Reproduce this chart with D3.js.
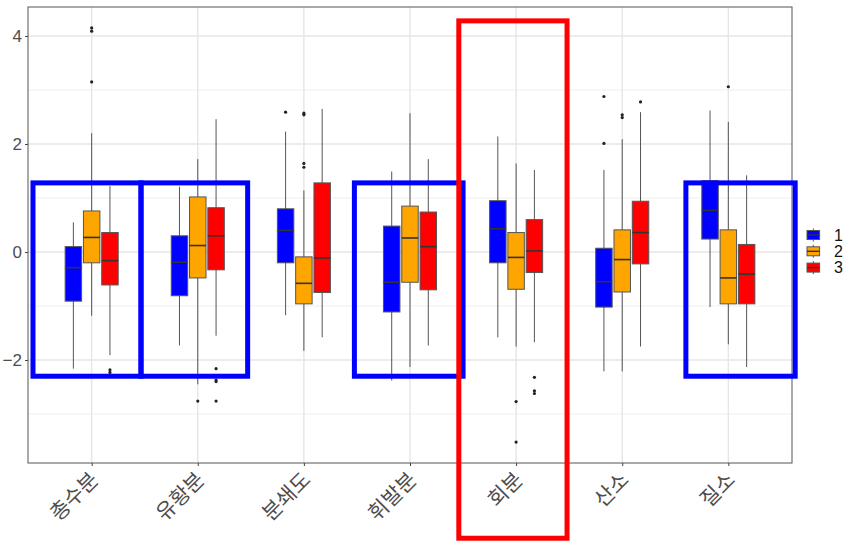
<!DOCTYPE html>
<html>
<head>
<meta charset="utf-8">
<script src="https://cdn.jsdelivr.net/npm/d3@7"></script>
<style>
  html, body { margin: 0; padding: 0; background: #fff; }
  svg { display: block; }
</style>
</head>
<body>
<svg id="chart" width="849" height="541"></svg>
<script>
// Categories and series
const categories = ["총수분", "유황분", "분쇄도", "휘발분", "회분", "산소", "질소"];
const groups = ["1", "2", "3"];
const groupColors = ["#0000FF", "#FFA500", "#FF0000"];

// Box statistics per group, one value per category
const whiskerLow1 = [-2.16, -1.73, -1.17, -2.38, -1.58, -2.21, -1.02];
const q1_1        = [-0.91, -0.81, -0.20, -1.11, -0.20, -1.02,  0.24];
const median1     = [-0.29, -0.19,  0.40, -0.56,  0.43, -0.55,  0.77];
const q3_1        = [ 0.10,  0.30,  0.80,  0.48,  0.95,  0.07,  1.32];
const whiskerHigh1= [ 0.55,  1.21,  2.23,  1.49,  2.14,  1.52,  2.62];

const whiskerLow2 = [-1.18, -2.45, -1.83, -2.13, -1.75, -2.21, -1.71];
const q1_2        = [-0.20, -0.48, -0.96, -0.56, -0.69, -0.74, -0.96];
const median2     = [ 0.27,  0.12, -0.58,  0.26, -0.10, -0.14, -0.48];
const q3_2        = [ 0.76,  1.02, -0.09,  0.85,  0.36,  0.41,  0.41];
const whiskerHigh2= [ 2.20,  1.72,  1.14,  2.57,  1.64,  2.09,  2.41];

const whiskerLow3 = [-1.91, -1.55, -1.58, -1.73, -1.67, -1.75, -2.13];
const q1_3        = [-0.61, -0.33, -0.75, -0.70, -0.38, -0.22, -0.96];
const median3     = [-0.16,  0.30, -0.11,  0.10,  0.02,  0.36, -0.41];
const q3_3        = [ 0.36,  0.82,  1.28,  0.74,  0.60,  0.94,  0.14];
const whiskerHigh3= [ 1.22,  2.46,  2.65,  1.72,  1.52,  2.59,  1.42];

// Outliers: [category index, value]
const outliers1 = [[2, 2.59], [5, 2.88], [5, 2.01]];
const outliers2 = [[0, 4.15], [0, 4.09], [0, 3.15], [1, -2.76], [2, 2.57], [2, 2.54],
                   [2, 1.64], [2, 1.57], [4, -2.77], [4, -3.52], [5, 2.54], [5, 2.49], [6, 3.06]];
const outliers3 = [[0, -2.18], [0, -2.23], [1, -2.16], [1, -2.37], [1, -2.40], [1, -2.76],
                   [4, -2.32], [4, -2.57], [4, -2.62], [5, 2.78]];

// Y axis
const yTicks = [-2, 0, 2, 4];
const yMinorTicks = [-3, -1, 1, 3];

// Highlight frames: category index, left/right offset (category units), value range
const blueFrames = [
  { cat: 0, dx0: -0.553, dx1: 0.465, y0: -2.30, y1: 1.28 },
  { cat: 1, dx0: -0.535, dx1: 0.470, y0: -2.30, y1: 1.28 },
  { cat: 3, dx0: -0.524, dx1: 0.500, y0: -2.30, y1: 1.28 },
  { cat: 6, dx0: -0.400, dx1: 0.630, y0: -2.30, y1: 1.28 }
];
const redFrames = [
  { cat: 4, dx0: -0.540, dx1: 0.480, y0: -5.30, y1: 4.28 }
];

// Assemble series
const series = [
  { name: groups[0], color: groupColors[0], lo: whiskerLow1, q1: q1_1, med: median1, q3: q3_1, hi: whiskerHigh1, out: outliers1 },
  { name: groups[1], color: groupColors[1], lo: whiskerLow2, q1: q1_2, med: median2, q3: q3_2, hi: whiskerHigh2, out: outliers2 },
  { name: groups[2], color: groupColors[2], lo: whiskerLow3, q1: q1_3, med: median3, q3: q3_3, hi: whiskerHigh3, out: outliers3 }
];

const svg = d3.select("#chart");
const panel = { left: 28, right: 792, top: 7, bottom: 463 };

// Discrete x scale with 0.6 category expansion on each side
const nCat = categories.length;
const unit = (panel.right - panel.left) / (nCat - 1 + 1.2);
const xIdx = d3.scaleLinear().domain([-0.6, nCat - 1 + 0.6]).range([panel.left, panel.right]);
const x = d3.scalePoint().domain(categories).range([xIdx(0), xIdx(nCat - 1)]);
const dodge = d3.scaleBand().domain(groups).range([-0.25 * unit, 0.25 * unit]).paddingInner(0.1);

const y = d3.scaleLinear().domain([-3.907, 4.537]).range([panel.bottom, panel.top]);

// Panel background and grid
svg.append("rect").attr("x", panel.left).attr("y", panel.top)
  .attr("width", panel.right - panel.left).attr("height", panel.bottom - panel.top).attr("fill", "#fff");

const grid = svg.append("g");
grid.selectAll(".minor").data(yMinorTicks).join("line")
  .attr("x1", panel.left).attr("x2", panel.right)
  .attr("y1", d => y(d)).attr("y2", d => y(d))
  .attr("stroke", "#f0f0f0").attr("stroke-width", 1.2);
grid.selectAll(".major").data(yTicks).join("line")
  .attr("x1", panel.left).attr("x2", panel.right)
  .attr("y1", d => y(d)).attr("y2", d => y(d))
  .attr("stroke", "#e6e6e6").attr("stroke-width", 1.4);
grid.selectAll(".vmajor").data(categories).join("line")
  .attr("x1", d => x(d)).attr("x2", d => x(d))
  .attr("y1", panel.top).attr("y2", panel.bottom)
  .attr("stroke", "#e6e6e6").attr("stroke-width", 1.4);

// Box plots
const boxes = svg.append("g");
series.forEach(s => {
  const g = boxes.append("g");
  const off = dodge(s.name);
  const bw = dodge.bandwidth();
  const cx = i => x(categories[i]) + off + bw / 2;
  const idx = d3.range(nCat);

  g.selectAll(".whisker").data(idx).join("line")
    .attr("x1", cx).attr("x2", cx)
    .attr("y1", i => y(s.hi[i])).attr("y2", i => y(s.lo[i]))
    .attr("stroke", "#555").attr("stroke-width", 1);

  g.selectAll(".box").data(idx).join("rect")
    .attr("x", i => cx(i) - bw / 2).attr("width", bw)
    .attr("y", i => y(s.q3[i])).attr("height", i => y(s.q1[i]) - y(s.q3[i]))
    .attr("fill", s.color).attr("stroke", "#555").attr("stroke-width", 1);

  g.selectAll(".median").data(idx).join("line")
    .attr("x1", i => cx(i) - bw / 2).attr("x2", i => cx(i) + bw / 2)
    .attr("y1", i => y(s.med[i])).attr("y2", i => y(s.med[i]))
    .attr("stroke", "#333").attr("stroke-width", 1.6);

  g.selectAll(".outlier").data(s.out).join("circle")
    .attr("cx", d => cx(d[0])).attr("cy", d => y(d[1])).attr("r", 1.6)
    .attr("fill", "#222");
});

// Panel border
svg.append("rect").attr("x", panel.left).attr("y", panel.top)
  .attr("width", panel.right - panel.left).attr("height", panel.bottom - panel.top)
  .attr("fill", "none").attr("stroke", "#555").attr("stroke-width", 1);

// Y axis
const yAxis = svg.append("g").attr("transform", `translate(${panel.left},0)`)
  .call(d3.axisLeft(y).tickValues(yTicks).tickSize(3).tickPadding(3).tickFormat(d3.format("d")));
yAxis.select(".domain").remove();
yAxis.selectAll(".tick line").attr("stroke", "#444");
yAxis.selectAll(".tick text").attr("fill", "#4d4d4d")
  .style("font-family", "'Liberation Sans', Arial, sans-serif").style("font-size", "17px");

// X axis ticks and rotated labels
const xAxis = svg.append("g").attr("transform", `translate(0,${panel.bottom})`)
  .call(d3.axisBottom(x).tickSize(3).tickFormat(""));
xAxis.select(".domain").remove();
xAxis.selectAll(".tick line").attr("stroke", "#444");
svg.append("g").selectAll("text").data(categories).join("text")
  .attr("transform", d => `translate(${x(d) + 8},${panel.bottom + 18}) rotate(-45)`)
  .attr("text-anchor", "end")
  .attr("fill", "#4d4d4d")
  .style("font-family", "'Noto Sans CJK KR', sans-serif").style("font-size", "21px")
  .text(d => d);

// Legend
const legend = svg.append("g").attr("transform", "translate(807,235)");
series.forEach((s, k) => {
  const lg = legend.append("g").attr("transform", `translate(0,${k * 16.3})`);
  lg.append("line").attr("x1", 6.3).attr("x2", 6.3).attr("y1", -6.5).attr("y2", 6.5)
    .attr("stroke", "#555").attr("stroke-width", 1);
  lg.append("rect").attr("x", 0).attr("y", -4.5).attr("width", 12.6).attr("height", 9)
    .attr("fill", s.color).attr("stroke", "#555").attr("stroke-width", 1);
  lg.append("line").attr("x1", 0).attr("x2", 12.6).attr("y1", 0).attr("y2", 0)
    .attr("stroke", "#333").attr("stroke-width", 1.4);
  lg.append("text").attr("x", 27).attr("y", 0).attr("dy", "0.36em")
    .attr("fill", "#111")
    .style("font-family", "'Liberation Sans', Arial, sans-serif").style("font-size", "16px")
    .text(s.name);
});

// Highlight frames drawn on top
const frameRect = (sel, color) => sel
  .attr("x", d => xIdx(d.cat + d.dx0)).attr("width", d => xIdx(d.cat + d.dx1) - xIdx(d.cat + d.dx0))
  .attr("y", d => y(d.y1)).attr("height", d => y(d.y0) - y(d.y1))
  .attr("fill", "none").attr("stroke", color).attr("stroke-width", 5);
svg.append("g").selectAll("rect").data(blueFrames).join("rect").call(frameRect, "#0000FF");
svg.append("g").selectAll("rect").data(redFrames).join("rect").call(frameRect, "#FF0000");
</script>
</body>
</html>
